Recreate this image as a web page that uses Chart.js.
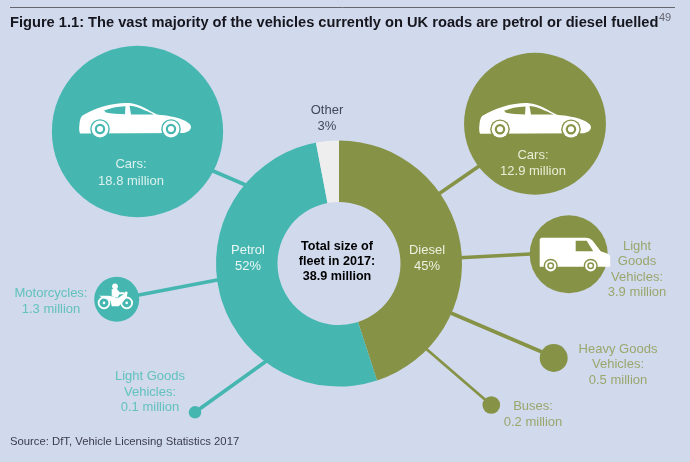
<!DOCTYPE html>
<html>
<head>
<meta charset="utf-8">
<title>UK vehicle fleet 2017</title>
<script src="https://cdn.jsdelivr.net/npm/chart.js@4/dist/chart.umd.min.js"></script>
<style>
  html, body { margin: 0; padding: 0; background: #d1d9ed; }
  #stage { position: relative; width: 690px; height: 462px; overflow: hidden; }
  #stage canvas { position: absolute; left: 0; top: 0; }
</style>
</head>
<body>
<div id="stage">
  <canvas id="bubbleChart" width="690" height="462"></canvas>
  <canvas id="fuelChart" width="690" height="462"></canvas>
</div>
<script>
// Fleet share by fuel, percent
const fuelLabels = ['Diesel', 'Petrol', 'Other'];
const fuelShares = [45, 52, 3];

// Vehicles by fuel, million
const petrolCategories = ['Cars', 'Motorcycles', 'Light Goods Vehicles'];
const petrolMillions = [18.8, 1.3, 0.1];
const dieselCategories = ['Cars', 'Light Goods Vehicles', 'Heavy Goods Vehicles', 'Buses'];
const dieselMillions = [12.9, 3.9, 0.5, 0.2];

// Where the satellites sit on the page, same order as the categories above
const petrolCentres = [[137.5, 131.5], [116.7, 299.3], [195, 412.3]];
const dieselCentres = [[535, 123.7], [568.7, 254.3], [553.7, 358], [491.3, 405]];
const petrolLinks = [[[205, 167.5], [248, 186]], [[116.7, 299.3], [225, 278.5]], [[195, 412.3], [272, 357]]];
const dieselLinks = [[[485, 162], [435, 196.5]], [[540, 253.5], [455, 258]], [[553.7, 357], [445, 310.5]], [[491.3, 405], [420, 343.5]]];

const TEAL = '#45b7b0';
const OLIVE = '#869346';
const OTHER = '#eeeeee';
const TEAL_TEXT = '#62c2bd';
const OLIVE_TEXT = '#9aa76c';
const LABEL_FONT = '13px "Liberation Sans", Arial, sans-serif';
const BOLD_FONT = 'bold 12.6px "Liberation Sans", Arial, sans-serif';

// bubble area follows the value
const radiusFor = v => 19.75 * Math.sqrt(v);

function toBubbles(values, centres) {
    return values.map((v, i) => ({ x: centres[i][0], y: centres[i][1], r: radiusFor(v) }));
}

function linkDataset(points, color, width) {
    return {
        type: 'line',
        data: points.map(p => ({ x: p[0], y: p[1] })),
        borderColor: color,
        borderWidth: width,
        pointRadius: 0,
        order: 2
    };
}

// ---- icons, drawn around a local origin in plain px ----
function wheel(ctx, x, y, r, color) {
    ctx.fillStyle = color;
    ctx.beginPath(); ctx.arc(x, y, r + 1.4, 0, Math.PI * 2); ctx.fill();
    ctx.fillStyle = '#fff';
    ctx.beginPath(); ctx.arc(x, y, r, 0, Math.PI * 2); ctx.fill();
    ctx.fillStyle = color;
    ctx.beginPath(); ctx.arc(x, y, r * 0.62, 0, Math.PI * 2); ctx.fill();
    ctx.fillStyle = '#fff';
    ctx.beginPath(); ctx.arc(x, y, r * 0.36, 0, Math.PI * 2); ctx.fill();
}

function drawCar(ctx, left, top, color) {
    ctx.save();
    ctx.translate(left, top);
    ctx.fillStyle = '#fff';
    ctx.fill(new Path2D('M0.5 22 C1 17 2 15 3.5 13.5 C9 10 17 6.5 24 4.5 C33 1.8 43 0.5 50 1 C60 1.5 69 8 78 12.5 C88 13.5 97 15 103 17.5 C108 19.5 112 22 112 25 C112 28 109 30 105 31 L1 31.6 C0 29 0 25 0.5 22 Z'));
    ctx.fillStyle = color;
    ctx.fill(new Path2D('M25 8.6 C31 6 38 4.5 46.5 4.2 L46 12.2 C39 12.2 32 11.8 27 10.6 Z'));
    ctx.fill(new Path2D('M50.5 3.8 C56 4.2 61 6 66 8.5 C70 10 73 11.5 74.5 12.4 L52 12.4 Z'));
    wheel(ctx, 21, 27, 8.4, color);
    wheel(ctx, 92, 27, 8.4, color);
    ctx.restore();
}

function drawVan(ctx, left, top, color) {
    ctx.save();
    ctx.translate(left, top);
    ctx.fillStyle = '#fff';
    ctx.fill(new Path2D('M1.5 0 L46 0 C49 0 51 1 53 3 L61 13.5 L68 16 C70 17 70.5 18 70.5 20 L70.5 29 L0 29 L0 1.5 Z'));
    ctx.fillStyle = color;
    ctx.fill(new Path2D('M36 3 L47 3 L53.5 13.5 L36 13.5 Z'));
    wheel(ctx, 11, 28, 5.6, color);
    wheel(ctx, 51, 28, 5.6, color);
    ctx.restore();
}

function drawBike(ctx, cx, cy, color) {
    ctx.save();
    ctx.translate(cx, cy);
    ctx.fillStyle = '#fff';
    ctx.strokeStyle = '#fff';
    // wheels
    ctx.lineWidth = 1.8;
    [[-12.7, 3.6], [10, 3.6]].forEach(p => {
        ctx.beginPath(); ctx.arc(p[0], p[1], 5.4, 0, Math.PI * 2); ctx.stroke();
        ctx.beginPath(); ctx.arc(p[0], p[1], 1.3, 0, Math.PI * 2); ctx.fill();
    });
    // tail, seat, tank and engine
    ctx.fill(new Path2D('M-18 -3.5 L-8 -3.5 L-3 -2.5 L1 -1 L7 -5 L9 -8 L11 -7 L10 -2 L6 3 L2 7 L-5 7 L-6 2 L-12 -1 Z'));
    // rider
    ctx.fill(new Path2D('M-5 -10 L0 -10.5 L3 -7 L7.5 -7 L8 -5.2 L2.5 -4.8 L1 -1.5 L-5 -3 Z'));
    ctx.beginPath(); ctx.arc(-1.7, -13, 2.9, 0, Math.PI * 2); ctx.fill();
    ctx.restore();
}

// ---- satellite bubbles and their connectors ----
const satelliteIcons = {
    id: 'satelliteIcons',
    afterDatasetsDraw(chart) {
        const ctx = chart.ctx;
        const petrol = chart.getDatasetMeta(0).data;
        const diesel = chart.getDatasetMeta(1).data;
        drawCar(ctx, petrol[0].x - 58.5, petrol[0].y - 29.5, TEAL);
        drawBike(ctx, petrol[1].x, petrol[1].y, TEAL);
        drawCar(ctx, diesel[0].x - 56, diesel[0].y - 21.5, OLIVE);
        drawVan(ctx, diesel[1].x - 29, diesel[1].y - 16.5, OLIVE);
    }
};

new Chart(document.getElementById('bubbleChart'), {
    type: 'bubble',
    data: {
        datasets: [
            { label: 'Petrol', data: toBubbles(petrolMillions, petrolCentres), backgroundColor: TEAL, borderWidth: 0, order: 1, clip: false },
            { label: 'Diesel', data: toBubbles(dieselMillions, dieselCentres), backgroundColor: OLIVE, borderWidth: 0, order: 1, clip: false },
            ...petrolLinks.map(l => linkDataset(l, TEAL, 3.6)),
            ...dieselLinks.map((l, i) => linkDataset(l, OLIVE, i === 3 ? 2.8 : 3.6))
        ]
    },
    options: {
        responsive: false,
        animation: false,
        layout: { padding: 0, autoPadding: false },   // big bubbles would otherwise shrink the plot area
        plugins: { legend: { display: false }, tooltip: { enabled: false } },
        scales: {
            x: { type: 'linear', min: 0, max: 690, display: false },
            y: { type: 'linear', min: 0, max: 462, reverse: true, display: false }
        }
    },
    plugins: [satelliteIcons]
});

// ---- all the text on the page ----
function writeLines(ctx, lines, x, y, step, font, color, align) {
    ctx.font = font;
    ctx.fillStyle = color;
    ctx.textAlign = align || 'center';
    ctx.textBaseline = 'middle';
    lines.forEach((t, i) => ctx.fillText(t, x, y + i * step));
}

const pageText = {
    id: 'pageText',
    afterDraw(chart) {
        const ctx = chart.ctx;
        ctx.save();
        // heading with rule above
        ctx.strokeStyle = '#66666f';
        ctx.lineWidth = 1;
        ctx.beginPath(); ctx.moveTo(10, 7.5); ctx.lineTo(675, 7.5); ctx.stroke();
        writeLines(ctx, ['Figure 1.1: The vast majority of the vehicles currently on UK roads are petrol or diesel fuelled'], 10, 22.5, 0, 'bold 14.65px "Liberation Sans", Arial, sans-serif', '#16161e', 'left');
        writeLines(ctx, ['49'], 659, 17.5, 0, '11px "Liberation Sans", Arial, sans-serif', '#66666f', 'left');

        // share labels
        const pct = i => fuelShares[i] + '%';
        writeLines(ctx, ['Other', pct(2)], 327, 110, 16, LABEL_FONT, '#3f4a5c');
        writeLines(ctx, [fuelLabels[1], pct(1)], 248, 250, 16, LABEL_FONT, '#eaf6f5');
        writeLines(ctx, [fuelLabels[0], pct(0)], 427, 250, 16, LABEL_FONT, '#eef0e0');
        writeLines(ctx, ['Total size of', 'fleet in 2017:', '38.9 million'], 337, 247, 15, BOLD_FONT, '#000');

        // satellite labels
        const mil = v => v.toFixed(1) + ' million';
        writeLines(ctx, ['Cars:', mil(petrolMillions[0])], 131, 164, 17, LABEL_FONT, '#dcf1ef');
        writeLines(ctx, ['Motorcycles:', mil(petrolMillions[1])], 51, 293, 16, LABEL_FONT, TEAL_TEXT);
        writeLines(ctx, ['Light Goods', 'Vehicles:', mil(petrolMillions[2])], 150, 376.5, 15.6, LABEL_FONT, TEAL_TEXT);
        writeLines(ctx, ['Cars:', mil(dieselMillions[0])], 533, 155, 16, LABEL_FONT, '#e9edd6');
        writeLines(ctx, ['Light', 'Goods', 'Vehicles:', mil(dieselMillions[1])], 637, 246, 15.6, LABEL_FONT, OLIVE_TEXT);
        writeLines(ctx, ['Heavy Goods', 'Vehicles:', mil(dieselMillions[2])], 618, 349, 15.8, LABEL_FONT, OLIVE_TEXT);
        writeLines(ctx, ['Buses:', mil(dieselMillions[3])], 533, 406, 16, LABEL_FONT, OLIVE_TEXT);

        writeLines(ctx, ['Source: DfT, Vehicle Licensing Statistics 2017'], 10, 442, 0, '11.3px "Liberation Sans", Arial, sans-serif', '#3a3d4c', 'left');
        ctx.restore();
    }
};

// ---- main ring, on top so the connectors tuck under it ----
new Chart(document.getElementById('fuelChart'), {
    type: 'doughnut',
    data: {
        labels: fuelLabels,
        datasets: [{
            data: fuelShares,
            backgroundColor: [OLIVE, TEAL, OTHER],
            borderWidth: 0
        }]
    },
    options: {
        responsive: false,
        animation: false,
        cutout: '50%',
        layout: { padding: { left: 216, right: 228, top: 140, bottom: 75 } },
        plugins: { legend: { display: false }, tooltip: { enabled: false } }
    },
    plugins: [pageText]
});
</script>
</body>
</html>
